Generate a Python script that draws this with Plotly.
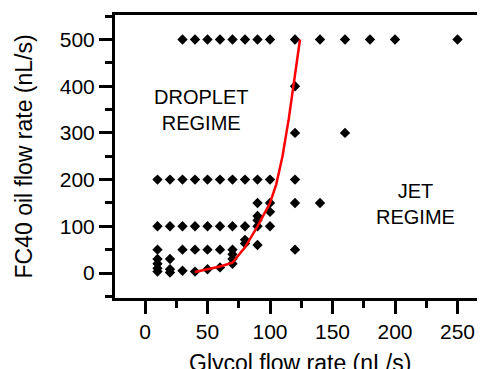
import plotly.graph_objects as go

# Experimental points (glycol flow rate, FC40 oil flow rate)
glycol_x = (
    [10]*7 + [20]*5 + [30]*5 + [40]*5 + [50]*5 + [60]*5 + [70]*7 + [80]*5
    + [90]*7 + [100]*5 + [120]*6 + [140]*2 + [160]*2 + [180, 200, 250]
)
oil_y = (
    [3, 10, 20, 30, 50, 100, 200]
    + [1, 8, 30, 100, 200]
    + [5, 50, 100, 200, 500]
    + [3, 50, 100, 200, 500]
    + [8, 50, 100, 200, 500]
    + [12, 50, 100, 200, 500]
    + [20, 30, 40, 50, 100, 200, 500]
    + [63, 71, 100, 200, 500]
    + [60, 100, 113, 122, 150, 200, 500]
    + [100, 131, 150, 200, 500]
    + [50, 150, 200, 300, 400, 500]
    + [150, 500]
    + [300, 500]
    + [500, 500, 500]
)

# Boundary between regimes (red curve)
boundary_x = [40, 50, 60, 70, 80, 90, 100, 105, 110, 115, 120, 124]
boundary_y = [2, 8, 14, 22, 55, 100, 150, 190, 250, 330, 420, 500]

x_ticks = [0, 50, 100, 150, 200, 250]
y_ticks = [0, 100, 200, 300, 400, 500]

FONT = "Liberation Sans, Arial, sans-serif"

fig = go.Figure()
fig.add_trace(go.Scatter(
    x=glycol_x, y=oil_y, mode="markers",
    marker=dict(symbol="diamond", size=8, color="black"),
    showlegend=False, cliponaxis=False,
))
fig.add_trace(go.Scatter(
    x=boundary_x, y=boundary_y, mode="lines",
    line=dict(color="#ff0000", width=2.5),
    showlegend=False,
))

fig.update_layout(
    width=477, height=361,
    margin=dict(l=107, r=0, t=7, b=71),
    paper_bgcolor="white", plot_bgcolor="white",
    font=dict(family=FONT, color="black", size=20),
    xaxis=dict(
        range=[-24, 272], showgrid=False, zeroline=False,
        showline=True, linecolor="black", linewidth=3, mirror=True,
        ticks="outside", ticklen=13, tickwidth=3, tickcolor="black",
        tickvals=x_ticks, ticktext=[str(v) for v in x_ticks],
        tickfont=dict(size=21),
        minor=dict(ticks="outside", ticklen=7, tickwidth=3, tickcolor="black",
                   dtick=25, tick0=0, showgrid=False),
    ),
    yaxis=dict(
        range=[-53.5, 552.5], showgrid=False, zeroline=False,
        showline=True, linecolor="black", linewidth=3,
        ticks="outside", ticklen=13, tickwidth=3, tickcolor="black",
        tickvals=y_ticks, ticktext=[str(v) for v in y_ticks],
        tickfont=dict(size=21),
        minor=dict(ticks="outside", ticklen=7, tickwidth=3, tickcolor="black",
                   dtick=50, tick0=0, showgrid=False),
    ),
    annotations=[
        dict(text="Glycol flow rate (nL/s)", xref="paper", yref="paper",
             x=0.5, y=-0.175, xanchor="center", yanchor="top",
             showarrow=False, font=dict(size=23)),
        dict(text="FC40 oil flow rate (nL/s)", xref="paper", yref="paper",
             x=-0.246, y=0.5, xanchor="center", yanchor="middle",
             textangle=-90, showarrow=False, font=dict(size=23)),
        dict(text="DROPLET<br>REGIME", xref="x", yref="y", x=45, y=350,
             showarrow=False, font=dict(size=20), align="center"),
        dict(text="JET<br>REGIME", xref="x", yref="y", x=216, y=148,
             showarrow=False, font=dict(size=20), align="center"),
    ],
)

fig.write_html("out.html")
